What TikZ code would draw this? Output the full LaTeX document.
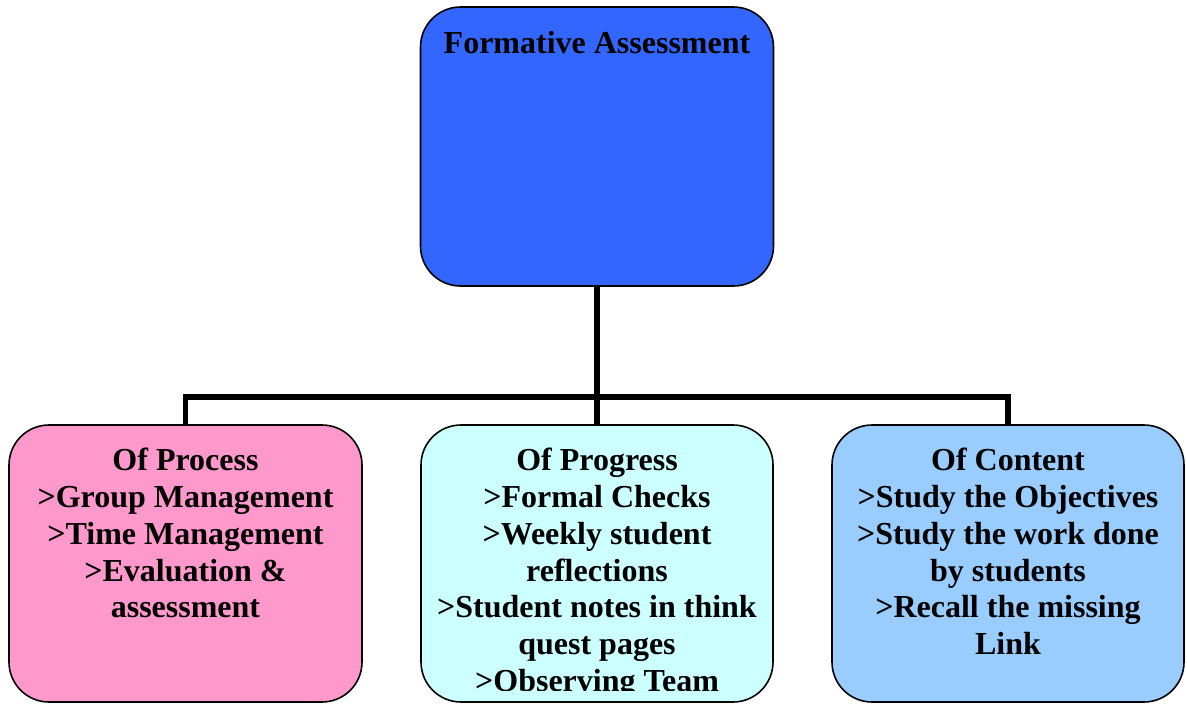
\documentclass[tikz,border=0pt]{standalone}
\usepackage{fontspec}
\setmainfont{Liberation Serif}
\definecolor{topblue}{HTML}{3366FF}
\definecolor{pinkbox}{HTML}{FF99CC}
\definecolor{cyanbox}{HTML}{CCFFFF}
\definecolor{lightblue}{HTML}{99CCFF}
\tikzset{
  box/.style={draw=black, line width=1.6pt, rounded corners=40pt, inner sep=0pt},
  boxtext/.style={anchor=north, inner sep=0pt, align=center, font=\bfseries\fontsize{32}{36.8}\selectfont},
  conn/.style={draw=black, line width=5.5pt, line join=miter}
}
\begin{document}
\begin{tikzpicture}[x=1pt, y=-1pt]
\useasboundingbox (0,0) rectangle (1187,705);
% boxes
\node[box, fill=topblue, minimum width=353pt, minimum height=279pt] (top) at (597,146.5) {};
\node[box, fill=pinkbox, minimum width=353pt, minimum height=277pt] (left) at (185.5,563.5) {};
\node[box, fill=cyanbox, minimum width=352pt, minimum height=277pt] (mid) at (597,563.5) {};
\node[box, fill=lightblue, minimum width=352pt, minimum height=277pt] (right) at (1008,563.5) {};
% connectors
\coordinate (bar) at (597,397);
\draw[conn] (top.south) -- (mid.north);
\draw[conn] (left.north) |- (bar) -| (right.north);
% texts
\node[boxtext] (ttop) at (597,31) {Formative Assessment};
\node[boxtext] (tleft) at (185.5,448) {Of Process\\>Group Management\\>Time Management\\>Evaluation \&\\assessment};
\begin{scope}
\clip (421,425) rectangle (773,690);
\node[boxtext] (tmid) at (597,448) {Of Progress\\>Formal Checks\\>Weekly student\\reflections\\>Student notes in think\\quest pages\\>Observing Team};
\end{scope}
\node[boxtext] (tright) at (1008,448) {Of Content\\>Study the Objectives\\>Study the work done\\by students\\>Recall the missing\\Link};
\end{tikzpicture}
\end{document}
